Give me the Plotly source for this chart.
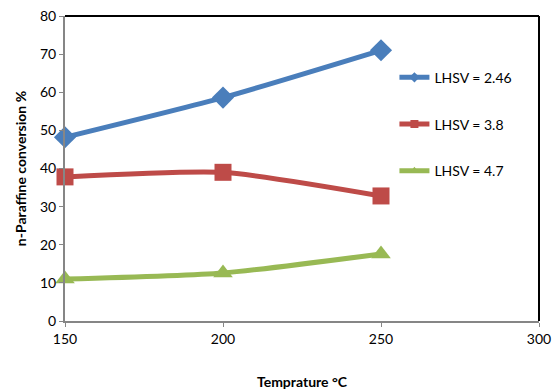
import plotly.graph_objects as go

# Temperature (°C) on the x axis
temperature = [150, 200, 250]

# n-Paraffin conversion (%) for each liquid hourly space velocity
conv_lhsv_246 = [48.2, 58.6, 71.0]
conv_lhsv_38 = [37.8, 39.0, 32.8]
conv_lhsv_47 = [11.0, 12.6, 17.6]

series = [
    ("LHSV = 2.46", conv_lhsv_246, "#4A7EBB", "diamond", 17),
    ("LHSV = 3.8", conv_lhsv_38, "#BE4B48", "square", 17),
    ("LHSV = 4.7", conv_lhsv_47, "#98B954", "triangle-up", 17),
]

FONT = "Lato, Open Sans, sans-serif"

fig = go.Figure()
for i, (name, vals, color, symbol, size) in enumerate(series):
    # data curve (smoothed line with large markers)
    fig.add_trace(go.Scatter(
        x=temperature, y=vals, name=name, mode="lines+markers",
        showlegend=False, cliponaxis=False,
        line=dict(color=color, width=5, shape="spline", smoothing=0.6),
        marker=dict(symbol=symbol, size=size, color=color),
    ))
    # legend key with a small marker
    fig.add_trace(go.Scatter(
        x=[None], y=[None], name=name, mode="lines+markers",
        legendgroup=f"g{i}",
        line=dict(color=color, width=5),
        marker=dict(symbol=symbol, size=8, color=color),
    ))

axis_font = dict(family=FONT, size=14, color="#000000")

fig.update_layout(
    width=552, height=392,
    margin=dict(l=65, r=13, t=16, b=71),
    paper_bgcolor="white", plot_bgcolor="white",
    font=axis_font,
    legend=dict(
        x=0.695, y=0.85, xanchor="left", yanchor="top",
        font=dict(family=FONT, size=14, color="#000000"),
        tracegroupgap=25.5, bgcolor="rgba(0,0,0,0)",
    ),
    xaxis=dict(
        range=[150, 300], tickvals=[150, 200, 250, 300],
        showgrid=False, zeroline=False, automargin=False,
        ticklabeloverflow="allow",
        showline=True, linecolor="#868686", linewidth=2,
        ticks="outside", ticklen=4, tickcolor="#868686",
        tickfont=axis_font,
        title=dict(text="<b>Temprature °C</b>", standoff=31,
                   font=dict(family=FONT, size=14)),
    ),
    yaxis=dict(
        range=[0, 80], dtick=10,
        showgrid=False, zeroline=False, automargin=False,
        showline=True, linecolor="#868686", linewidth=2,
        ticks="outside", ticklen=4, tickcolor="#868686",
        tickfont=axis_font,
        title=dict(text="<b>n-Paraffine conversion %</b>", standoff=10,
                   font=dict(family=FONT, size=14)),
    ),
    shapes=[
        dict(type="line", xref="paper", yref="paper", x0=0, x1=1, y0=1, y1=1,
             line=dict(color="#000000", width=2)),
        dict(type="line", xref="paper", yref="paper", x0=1, x1=1, y0=0, y1=1,
             line=dict(color="#000000", width=2)),
    ],
)

fig.write_html("out.html")
